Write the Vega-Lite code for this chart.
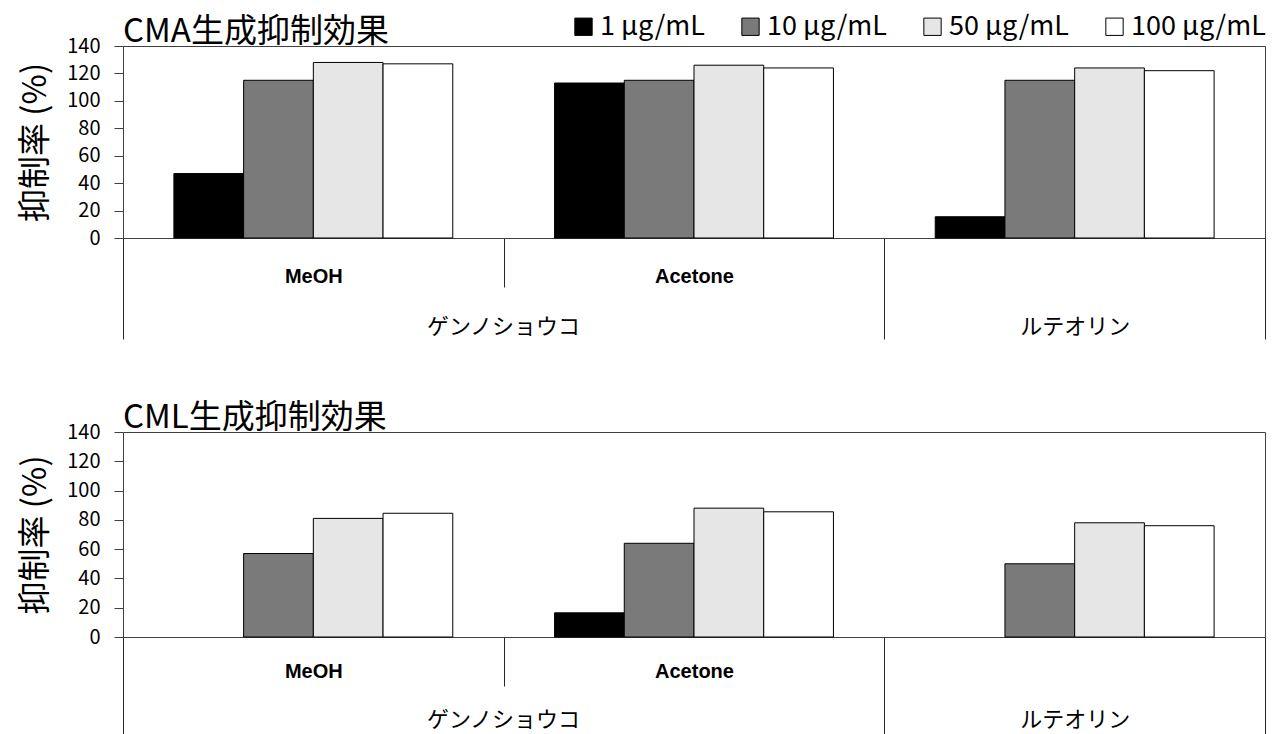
{
  "$schema": "https://vega.github.io/schema/vega-lite/v6.json",
  "padding": {"left": 19, "top": 13, "right": 5, "bottom": 0},
  "background": "white",
  "config": {
    "view": {"stroke": "#404040", "strokeWidth": 1},
    "font": "Noto Sans CJK JP",
    "axis": {"grid": false}
  },
  "datasets": {
    "cma": [
      {"group": "MeOH", "conc": "1 μg/mL", "value": 47},
      {"group": "MeOH", "conc": "10 μg/mL", "value": 115},
      {"group": "MeOH", "conc": "50 μg/mL", "value": 128},
      {"group": "MeOH", "conc": "100 μg/mL", "value": 127},
      {"group": "Acetone", "conc": "1 μg/mL", "value": 113},
      {"group": "Acetone", "conc": "10 μg/mL", "value": 115},
      {"group": "Acetone", "conc": "50 μg/mL", "value": 126},
      {"group": "Acetone", "conc": "100 μg/mL", "value": 124},
      {"group": "ルテオリン", "conc": "1 μg/mL", "value": 15.5},
      {"group": "ルテオリン", "conc": "10 μg/mL", "value": 115},
      {"group": "ルテオリン", "conc": "50 μg/mL", "value": 124},
      {"group": "ルテオリン", "conc": "100 μg/mL", "value": 122}
    ],
    "cml": [
      {"group": "MeOH", "conc": "10 μg/mL", "value": 57},
      {"group": "MeOH", "conc": "50 μg/mL", "value": 81},
      {"group": "MeOH", "conc": "100 μg/mL", "value": 84.5},
      {"group": "Acetone", "conc": "1 μg/mL", "value": 16.5},
      {"group": "Acetone", "conc": "10 μg/mL", "value": 64},
      {"group": "Acetone", "conc": "50 μg/mL", "value": 88},
      {"group": "Acetone", "conc": "100 μg/mL", "value": 85.5},
      {"group": "ルテオリン", "conc": "10 μg/mL", "value": 50},
      {"group": "ルテオリン", "conc": "50 μg/mL", "value": 78},
      {"group": "ルテオリン", "conc": "100 μg/mL", "value": 76}
    ]
  },
  "spacing": 61,
  "vconcat": [
    {
      "width": 1142,
      "height": 192,
      "title": {"text": "CMA生成抑制効果", "anchor": "start", "frame": "group", "fontSize": 33, "fontWeight": "normal", "offset": -13, "color": "#000"},
      "data": {"name": "cma"},
      "mark": {"type": "bar", "stroke": "#000", "strokeWidth": 1},
      "encoding": {
        "x": {
          "field": "group", "type": "nominal", "sort": ["MeOH", "Acetone", "ルテオリン"],
          "scale": {"paddingInner": 0, "paddingOuter": 0},
          "axis": {
            "title": "ゲンノショウコ", "titleX": 380, "titleY": 88, "titleBaseline": "middle", "titleAlign": "center",
            "titleFontSize": 22, "titleFontWeight": "normal", "titleColor": "#000",
            "labelAngle": 0, "tickBand": "extent",
            "tickSize": {"condition": {"test": "datum.value === 'MeOH'", "value": 49}, "value": 101},
            "tickColor": "#262626", "domainColor": "#404040", "labelColor": "#000",
            "labelBaseline": "middle",
            "labelFont": {"condition": {"test": "datum.value === 'ルテオリン'", "value": "Noto Sans CJK JP"}, "value": "Liberation Sans"},
            "labelFontWeight": {"condition": {"test": "datum.value === 'ルテオリン'", "value": "normal"}, "value": "bold"},
            "labelFontSize": {"condition": {"test": "datum.value === 'ルテオリン'", "value": 22}, "value": 20},
            "labelPadding": {"condition": [{"test": "datum.value === 'MeOH'", "value": -11}, {"test": "datum.value === 'Acetone'", "value": -63}], "value": -13}
          }
        },
        "xOffset": {"field": "conc", "type": "nominal", "sort": ["1 μg/mL", "10 μg/mL", "50 μg/mL", "100 μg/mL"], "scale": {"paddingInner": 0, "paddingOuter": 0.73}},
        "y": {
          "field": "value", "type": "quantitative", "scale": {"domain": [0, 140]},
          "axis": {"title": "抑制率 (%)", "titleFontSize": 33, "titleFontWeight": "normal", "titlePadding": 14, "titleColor": "#000",
                   "values": [0, 20, 40, 60, 80, 100, 120, 140], "tickSize": 9, "labelPadding": 14, "labelFontSize": 20, "labelColor": "#000",
                   "domainColor": "#404040", "tickColor": "#404040"}
        },
        "color": {
          "field": "conc", "type": "nominal", "sort": ["1 μg/mL", "10 μg/mL", "50 μg/mL", "100 μg/mL"],
          "scale": {"domain": ["1 μg/mL", "10 μg/mL", "50 μg/mL", "100 μg/mL"], "range": ["#000000", "#7a7a7a", "#e6e6e6", "#ffffff"]},
          "legend": {"orient": "none", "legendX": 447, "legendY": -33, "direction": "horizontal", "title": null,
                     "symbolType": "square", "symbolSize": 300, "symbolStrokeColor": "#000", "symbolStrokeWidth": 1,
                     "labelFontSize": 27, "labelColor": "#000", "labelOffset": 3, "columnPadding": 32}
        }
      }
    },
    {
      "width": 1142,
      "height": 205,
      "title": {"text": "CML生成抑制効果", "anchor": "start", "frame": "group", "fontSize": 33, "fontWeight": "normal", "offset": -13, "color": "#000"},
      "data": {"name": "cml"},
      "mark": {"type": "bar", "stroke": "#000", "strokeWidth": 1},
      "encoding": {
        "x": {
          "field": "group", "type": "nominal", "sort": ["MeOH", "Acetone", "ルテオリン"],
          "scale": {"paddingInner": 0, "paddingOuter": 0},
          "axis": {
            "title": "ゲンノショウコ", "titleX": 380, "titleY": 82, "titleBaseline": "middle", "titleAlign": "center",
            "titleFontSize": 22, "titleFontWeight": "normal", "titleColor": "#000",
            "labelAngle": 0, "tickBand": "extent",
            "tickSize": {"condition": {"test": "datum.value === 'MeOH'", "value": 49}, "value": 101},
            "tickColor": "#262626", "domainColor": "#404040", "labelColor": "#000",
            "labelBaseline": "middle",
            "labelFont": {"condition": {"test": "datum.value === 'ルテオリン'", "value": "Noto Sans CJK JP"}, "value": "Liberation Sans"},
            "labelFontWeight": {"condition": {"test": "datum.value === 'ルテオリン'", "value": "normal"}, "value": "bold"},
            "labelFontSize": {"condition": {"test": "datum.value === 'ルテオリン'", "value": 22}, "value": 20},
            "labelPadding": {"condition": [{"test": "datum.value === 'MeOH'", "value": -15}, {"test": "datum.value === 'Acetone'", "value": -67}], "value": -19}
          }
        },
        "xOffset": {"field": "conc", "type": "nominal", "sort": ["1 μg/mL", "10 μg/mL", "50 μg/mL", "100 μg/mL"], "scale": {"paddingInner": 0, "paddingOuter": 0.73}},
        "y": {
          "field": "value", "type": "quantitative", "scale": {"domain": [0, 140]},
          "axis": {"title": "抑制率 (%)", "titleFontSize": 33, "titleFontWeight": "normal", "titlePadding": 14, "titleColor": "#000",
                   "values": [0, 20, 40, 60, 80, 100, 120, 140], "tickSize": 9, "labelPadding": 14, "labelFontSize": 20, "labelColor": "#000",
                   "domainColor": "#404040", "tickColor": "#404040"}
        },
        "color": {
          "field": "conc", "type": "nominal", "sort": ["1 μg/mL", "10 μg/mL", "50 μg/mL", "100 μg/mL"],
          "scale": {"domain": ["1 μg/mL", "10 μg/mL", "50 μg/mL", "100 μg/mL"], "range": ["#000000", "#7a7a7a", "#e6e6e6", "#ffffff"]}
        }
      }
    }
  ]
}
